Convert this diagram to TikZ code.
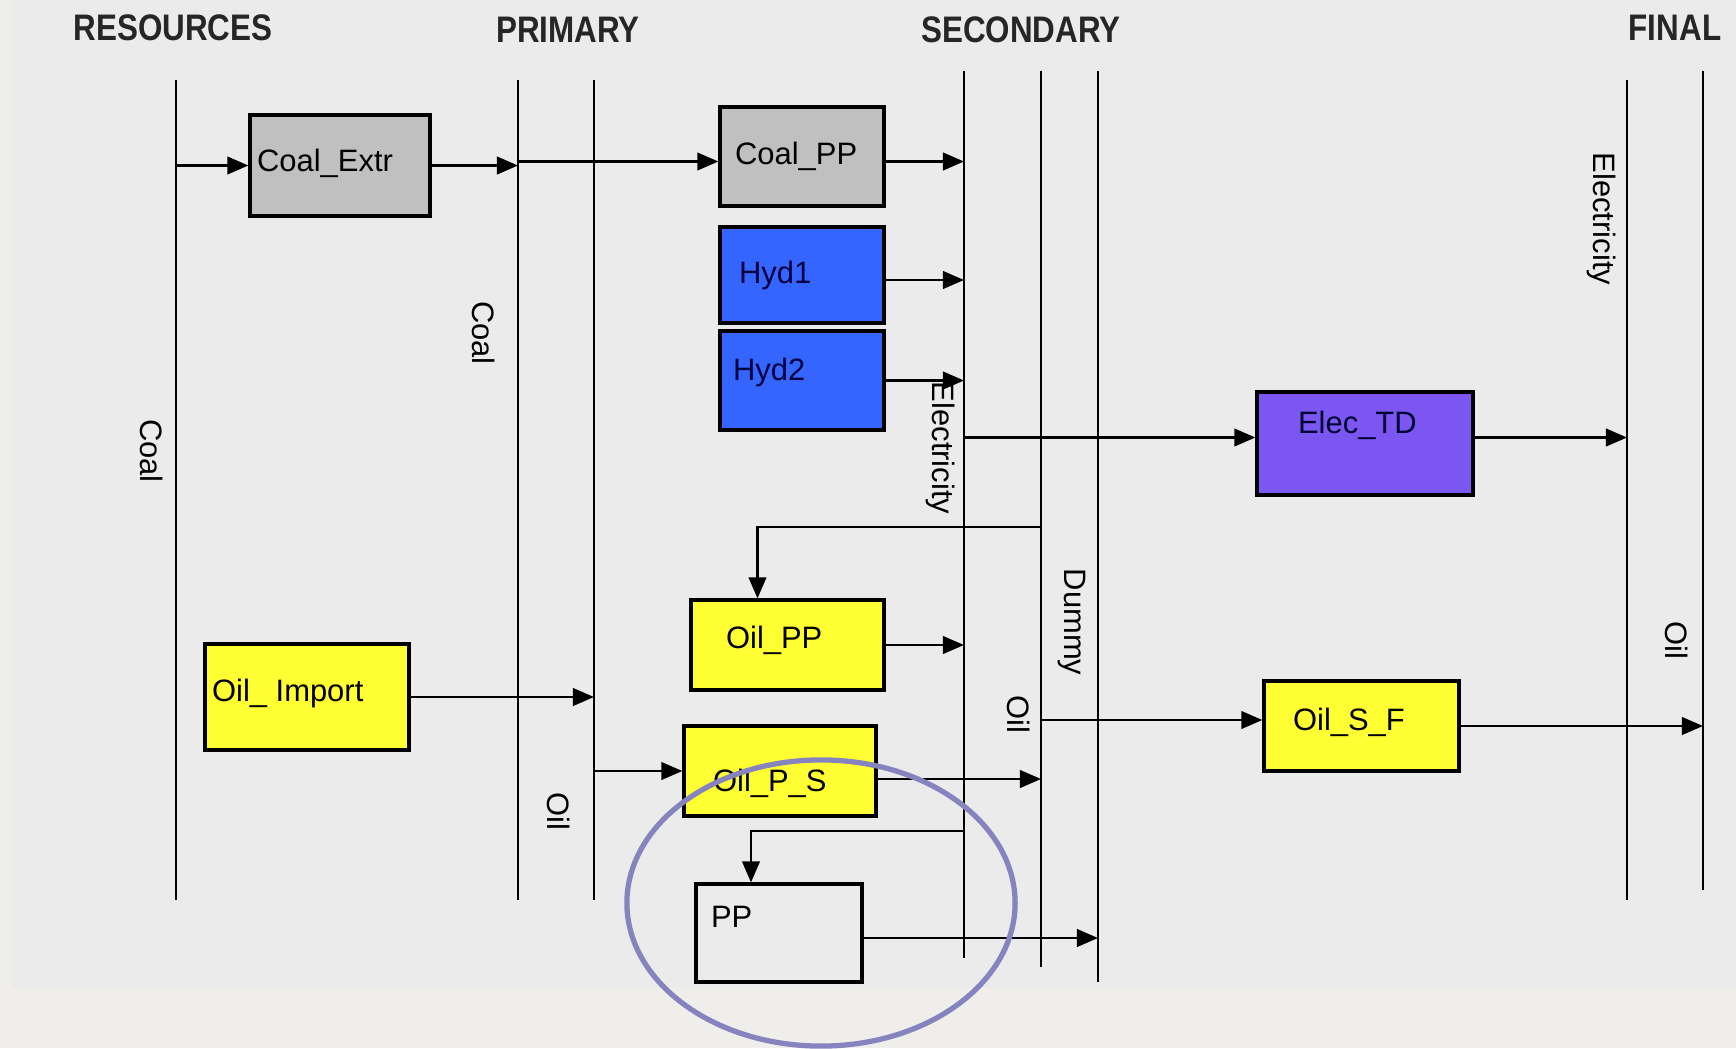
\documentclass[tikz,border=0pt]{standalone}
\usepackage{fontspec}
\setmainfont{Liberation Sans}
\usetikzlibrary{arrows.meta}

\definecolor{bgGray}{RGB}{235,235,235}
\definecolor{edgeGray}{RGB}{239,238,234}
\definecolor{coalGray}{RGB}{192,192,192}
\definecolor{hydroBlue}{RGB}{52,102,255}
\definecolor{elecPurple}{RGB}{124,86,240}
\definecolor{oilYellow}{RGB}{255,255,51}
\definecolor{ringBlue}{RGB}{134,132,190}

\tikzset{
  unit/.style={draw=black, line width=0.9pt, inner sep=0pt},
  unitname/.style={anchor=west, inner sep=0pt, font=\fontsize{8.8}{10}\selectfont},
  carrier/.style={line width=0.7pt},
  flow/.style={line width=0.7pt, -{Triangle[length=6pt,width=5pt]}},
  sector/.style={font=\fontsize{10.5}{12}\selectfont\bfseries, xscale=0.85, text=black!85},
  fuel/.style={rotate=-90, inner sep=0pt, font=\fontsize{8.8}{10}\selectfont},
}

\begin{document}
\begin{tikzpicture}[x=0.01cm, y=-0.01cm]

  % ================================================================
  % Background
  % ================================================================

  \fill[bgGray] (0,0) rectangle (1736,1048);
  \fill[edgeGray] (0,988) rectangle (1736,1048);
  \fill[edgeGray] (0,0) rectangle (12,988);
  \useasboundingbox (0,0) rectangle (1736,1048);

  % ================================================================
  % Sector headings
  % ================================================================

  \node[sector] (hdRes)  at (173,28)  {RESOURCES};
  \node[sector] (hdPri)  at (568,30)  {PRIMARY};
  \node[sector] (hdSec)  at (1021,30) {SECONDARY};
  \node[sector] (hdFin)  at (1675,28) {FINAL};

  % ================================================================
  % Energy carrier lines
  % ================================================================

  \coordinate (resCoalT) at (176,80);   \coordinate (resCoalB) at (176,900);
  \coordinate (priCoalT) at (518,80);   \coordinate (priCoalB) at (518,900);
  \coordinate (priOilT)  at (594,80);   \coordinate (priOilB)  at (594,900);
  \coordinate (secElecT) at (964,71);   \coordinate (secElecB) at (964,958);
  \coordinate (secOilT)  at (1041,71);  \coordinate (secOilB)  at (1041,967);
  \coordinate (dummyT)   at (1098,71);  \coordinate (dummyB)   at (1098,982);
  \coordinate (finElecT) at (1627,80);  \coordinate (finElecB) at (1627,900);
  \coordinate (finOilT)  at (1703,71);  \coordinate (finOilB)  at (1703,890);

  \draw[carrier] (resCoalT) -- (resCoalB);
  \draw[carrier] (priCoalT) -- (priCoalB);
  \draw[carrier] (priOilT)  -- (priOilB);
  \draw[carrier] (secElecT) -- (secElecB);
  \draw[carrier] (secOilT)  -- (secOilB);
  \draw[carrier] (dummyT)   -- (dummyB);
  \draw[carrier] (finElecT) -- (finElecB);
  \draw[carrier] (finOilT)  -- (finOilB);

  \node[fuel] (lblResCoal) at (152,451)  {Coal};
  \node[fuel] (lblPriCoal) at (484,333)  {Coal};
  \node[fuel] (lblPriOil)  at (559,811)  {Oil};
  \node[fuel] (lblSecElec) at (940,448)  {Electricity};
  \node[fuel] (lblSecOil)  at (1019,714) {Oil};
  \node[fuel] (lblDummy)   at (1072,622) {Dummy};
  \node[fuel] (lblFinElec) at (1601,219) {Electricity};
  \node[fuel] (lblFinOil)  at (1677,640) {Oil};

  % ================================================================
  % Technologies
  % ================================================================

  \node[unit, fill=coalGray, minimum width=1.80cm, minimum height=1.01cm]
    (coalExtr) at (340,165.5) {};
  \node[unit, fill=coalGray, minimum width=1.64cm, minimum height=0.99cm]
    (coalPP) at (802,156.5) {};
  \node[unit, fill=hydroBlue, minimum width=1.64cm, minimum height=0.96cm]
    (hydOne) at (802,275) {};
  \node[unit, fill=hydroBlue, minimum width=1.64cm, minimum height=0.99cm]
    (hydTwo) at (802,380.5) {};
  \node[unit, fill=elecPurple, minimum width=2.16cm, minimum height=1.03cm]
    (elecTD) at (1365,443.5) {};
  \node[unit, fill=oilYellow, minimum width=1.93cm, minimum height=0.90cm]
    (oilPP) at (787.5,645) {};
  \node[unit, fill=oilYellow, minimum width=2.04cm, minimum height=1.06cm]
    (oilImport) at (307,697) {};
  \node[unit, fill=oilYellow, minimum width=1.92cm, minimum height=0.90cm]
    (oilPS) at (780,771) {};
  \node[unit, fill=oilYellow, minimum width=1.95cm, minimum height=0.90cm]
    (oilSF) at (1361.5,726) {};
  \node[unit, fill=bgGray, minimum width=1.66cm, minimum height=0.98cm]
    (pp) at (779,933) {};

  \node[unitname] (coalExtrName)  at ([shift={(8,-2)}]coalExtr.west)   {Coal\_Extr};
  \node[unitname] (coalPPName)    at ([shift={(16,0)}]coalPP.west)     {Coal\_PP};
  \node[unitname, text=blue!25!black] (hydOneName)
    at ([shift={(20,0)}]hydOne.west) {Hyd1};
  \node[unitname, text=blue!25!black] (hydTwoName)
    at ([shift={(14,-8)}]hydTwo.west) {Hyd2};
  \node[unitname, text=blue!20!black] (elecTDName)
    at ([shift={(42,-18)}]elecTD.west) {Elec\_TD};
  \node[unitname] (oilPPName)     at ([shift={(36,-5)}]oilPP.west)     {Oil\_PP};
  \node[unitname] (oilImportName) at ([shift={(8,-4)}]oilImport.west)  {Oil\_ Import};
  \node[unitname] (oilPSName)     at ([shift={(30,12)}]oilPS.west)     {Oil\_P\_S};
  \node[unitname] (oilSFName)     at ([shift={(30,-4)}]oilSF.west)     {Oil\_S\_F};
  \node[unitname] (ppName)        at ([shift={(16,-16)}]pp.west)       {PP};

  % ================================================================
  % Flows
  % ================================================================

  % --- coal chain ---
  \draw[flow] (coalExtr.west -| resCoalT) -- (coalExtr.west);
  \draw[flow] (coalExtr.east) -- (coalExtr.east -| priCoalT);
  \draw[flow] ([shift={(0,5)}]coalPP.west -| priCoalT) -- ([shift={(0,5)}]coalPP.west);
  \draw[flow] ([shift={(0,5)}]coalPP.east) -- ([shift={(0,5)}]coalPP.east -| secElecT);

  % --- hydro ---
  \draw[flow] ([shift={(0,5)}]hydOne.east) -- ([shift={(0,5)}]hydOne.east -| secElecT);
  \draw[flow] (hydTwo.east) -- (hydTwo.east -| secElecT);

  % --- electricity to final ---
  \draw[flow] ([shift={(0,-6)}]elecTD.west -| secElecT) -- ([shift={(0,-6)}]elecTD.west);
  \draw[flow] ([shift={(0,-6)}]elecTD.east) -- ([shift={(0,-6)}]elecTD.east -| finElecT);

  % --- oil chain ---
  \coordinate (oilTap) at (1041,527);
  \draw[flow] (oilTap) -| ([shift={(-30,0)}]oilPP.north);
  \draw[flow] (oilPP.east) -- (oilPP.east -| secElecT);
  \draw[flow] (oilImport.east) -- (oilImport.east -| priOilT);
  \draw[flow] (oilPS.west -| priOilT) -- (oilPS.west);
  \draw[flow] ([shift={(0,8)}]oilPS.east) -- ([shift={(0,8)}]oilPS.east -| secOilT);
  \draw[flow] ([shift={(0,-6)}]oilSF.west -| secOilT) -- ([shift={(0,-6)}]oilSF.west);
  \draw[flow] (oilSF.east) -- (oilSF.east -| finOilT);

  % --- PP, fed from the electricity line ---
  \coordinate (elecTap) at (964,831);
  \draw[flow] (elecTap) -| ([shift={(-28,0)}]pp.north);
  \draw[flow] ([shift={(0,5)}]pp.east) -- ([shift={(0,5)}]pp.east -| dummyT);

  % --- highlight ring ---
  \draw[ringBlue, line width=1.5pt] (821,903) ellipse [x radius=1.94cm, y radius=1.43cm];

\end{tikzpicture}
\end{document}
